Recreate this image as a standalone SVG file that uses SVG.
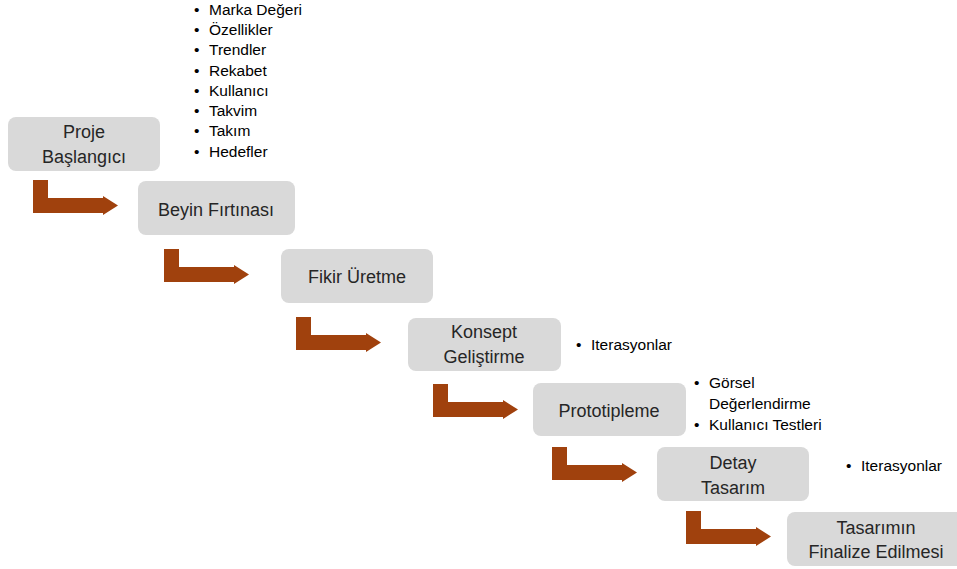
<svg xmlns="http://www.w3.org/2000/svg" width="957" height="569" viewBox="0 0 957 569">
<defs>
<style>
.box{fill:#d9d9d9;}
.t{font-family:"Liberation Sans",Arial,sans-serif;font-size:18px;fill:#262626;text-anchor:middle;}
.b{font-family:"Liberation Sans",Arial,sans-serif;font-size:15.5px;fill:#000;}
.arr{fill:#a0410d;}
</style>
<path id="arrow" d="M0,0 H15 V18 H70 V16 L85,25.5 L70,35 V33 H0 Z"/>
</defs>
<rect width="957" height="569" fill="#fff"/>
<g id="connectors" class="arr">
<use href="#arrow" x="33" y="180"/>
<use href="#arrow" x="164" y="249"/>
<use href="#arrow" x="296" y="317"/>
<use href="#arrow" x="433" y="384"/>
<use href="#arrow" x="552" y="447"/>
<use href="#arrow" x="686" y="511"/>
</g>
<g id="n1"><rect class="box" x="8" y="117" width="152" height="54" rx="8"/><text class="t" x="84" y="138">Proje</text><text class="t" x="84" y="163">Başlangıcı</text></g>
<g id="n2"><rect class="box" x="138" y="181" width="157" height="54" rx="8"/><text class="t" x="216" y="216">Beyin Fırtınası</text></g>
<g id="n3"><rect class="box" x="281" y="249" width="152" height="54" rx="8"/><text class="t" x="357" y="283">Fikir Üretme</text></g>
<g id="n4"><rect class="box" x="408" y="318" width="153" height="53" rx="8"/><text class="t" x="484" y="338">Konsept</text><text class="t" x="484" y="363">Geliştirme</text></g>
<g id="n5"><rect class="box" x="533" y="383" width="153" height="53" rx="8"/><text class="t" x="609" y="417">Prototipleme</text></g>
<g id="n6"><rect class="box" x="657" y="447" width="152" height="54" rx="8"/><text class="t" x="733" y="469">Detay</text><text class="t" x="733" y="494">Tasarım</text></g>
<g id="n7"><rect class="box" x="787" y="512" width="178" height="54" rx="8"/><text class="t" x="876" y="534">Tasarımın</text><text class="t" x="876" y="558">Finalize Edilmesi</text></g>
<g id="notes1" class="b">
<text x="194" y="15">•</text><text x="209" y="15">Marka Değeri</text>
<text x="194" y="35">•</text><text x="209" y="35">Özellikler</text>
<text x="194" y="55">•</text><text x="209" y="55">Trendler</text>
<text x="194" y="76">•</text><text x="209" y="76">Rekabet</text>
<text x="194" y="96">•</text><text x="209" y="96">Kullanıcı</text>
<text x="194" y="116">•</text><text x="209" y="116">Takvim</text>
<text x="194" y="136">•</text><text x="209" y="136">Takım</text>
<text x="194" y="157">•</text><text x="209" y="157">Hedefler</text>
</g>
<g id="notes2" class="b"><text x="576" y="350">•</text><text x="591" y="350">Iterasyonlar</text></g>
<g id="notes3" class="b">
<text x="694" y="388">•</text><text x="709" y="388">Görsel</text>
<text x="709" y="409">Değerlendirme</text>
<text x="694" y="430">•</text><text x="709" y="430">Kullanıcı Testleri</text>
</g>
<g id="notes4" class="b"><text x="846" y="471">•</text><text x="861" y="471">Iterasyonlar</text></g>
</svg>
